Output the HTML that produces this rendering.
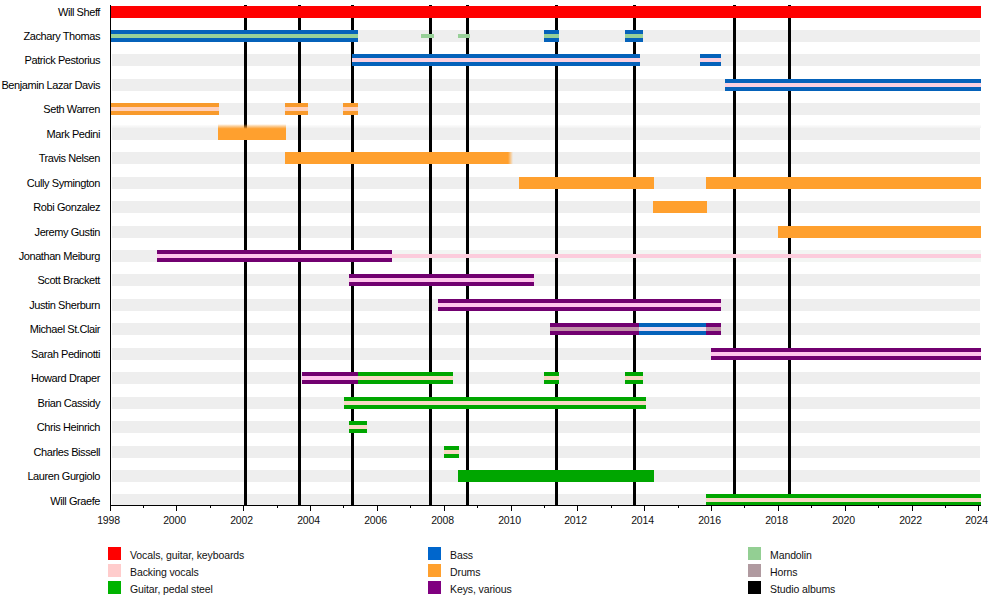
<!DOCTYPE html>
<html><head><meta charset="utf-8"><style>
html,body{margin:0;padding:0;background:#fff;}
body{width:1000px;height:615px;position:relative;overflow:hidden;font-family:"Liberation Sans",sans-serif;color:#111;}
div{position:absolute;}
.lb{right:900px;font-size:11px;letter-spacing:-0.42px;color:#000;white-space:nowrap;line-height:12px;text-align:right;}
.g{left:112px;width:868px;height:12px;background:#eeeeee;}
.yr{font-size:10.5px;letter-spacing:-0.18px;width:40px;text-align:center;line-height:12px;top:514px;}
.lg{width:13px;height:13px;}
.lt{font-size:10.5px;letter-spacing:-0.1px;line-height:13px;white-space:nowrap;}
</style></head><body>

<div class="g" style="top:6.0px"></div>
<div class="g" style="top:30.0px"></div>
<div class="g" style="top:54.0px"></div>
<div class="g" style="top:79.0px"></div>
<div class="g" style="top:103.0px"></div>
<div class="g" style="top:128.0px"></div>
<div class="g" style="top:152.0px"></div>
<div class="g" style="top:177.0px"></div>
<div class="g" style="top:201.0px"></div>
<div class="g" style="top:226.0px"></div>
<div class="g" style="top:250.0px"></div>
<div class="g" style="top:274.0px"></div>
<div class="g" style="top:299.0px"></div>
<div class="g" style="top:323.0px"></div>
<div class="g" style="top:348.0px"></div>
<div class="g" style="top:372.0px"></div>
<div class="g" style="top:397.0px"></div>
<div class="g" style="top:421.0px"></div>
<div class="g" style="top:446.0px"></div>
<div class="g" style="top:470.0px"></div>
<div class="g" style="top:494.0px"></div>
<div style="left:112px;width:869px;top:125px;height:3px;background:linear-gradient(to bottom,rgba(238,238,238,0.2),rgba(238,238,238,0.8))"></div>
<div style="left:392px;width:589px;top:250px;height:12px;background:#f3f5f3"></div>
<div class="lb" style="top:6.0px">Will Sheff</div>
<div class="lb" style="top:30.0px">Zachary Thomas</div>
<div class="lb" style="top:54.0px">Patrick Pestorius</div>
<div class="lb" style="top:79.0px">Benjamin Lazar Davis</div>
<div class="lb" style="top:103.0px">Seth Warren</div>
<div class="lb" style="top:128.0px">Mark Pedini</div>
<div class="lb" style="top:152.0px">Travis Nelsen</div>
<div class="lb" style="top:177.0px">Cully Symington</div>
<div class="lb" style="top:201.0px">Robi Gonzalez</div>
<div class="lb" style="top:226.0px">Jeremy Gustin</div>
<div class="lb" style="top:250.0px">Jonathan Meiburg</div>
<div class="lb" style="top:274.0px">Scott Brackett</div>
<div class="lb" style="top:299.0px">Justin Sherburn</div>
<div class="lb" style="top:323.0px">Michael St.Clair</div>
<div class="lb" style="top:348.0px">Sarah Pedinotti</div>
<div class="lb" style="top:372.0px">Howard Draper</div>
<div class="lb" style="top:397.0px">Brian Cassidy</div>
<div class="lb" style="top:421.0px">Chris Heinrich</div>
<div class="lb" style="top:446.0px">Charles Bissell</div>
<div class="lb" style="top:470.0px">Lauren Gurgiolo</div>
<div class="lb" style="top:494.5px">Will Graefe</div>
<div style="left:244.0px;top:5px;width:3px;height:500px;background:#000"></div>
<div style="left:298.0px;top:5px;width:3px;height:500px;background:#000"></div>
<div style="left:351.0px;top:5px;width:3px;height:500px;background:#000"></div>
<div style="left:429.0px;top:5px;width:3px;height:500px;background:#000"></div>
<div style="left:466.0px;top:5px;width:3px;height:500px;background:#000"></div>
<div style="left:555.0px;top:5px;width:3px;height:500px;background:#000"></div>
<div style="left:633.0px;top:5px;width:3px;height:500px;background:#000"></div>
<div style="left:733.0px;top:5px;width:3px;height:500px;background:#000"></div>
<div style="left:788.0px;top:5px;width:3px;height:500px;background:#000"></div>
<div style="left:110.0px;top:6.0px;width:871.0px;height:12.0px;background:#ff0000"></div>
<div style="left:110.0px;top:30.0px;width:248.0px;height:4.0px;background:#0562ba"></div>
<div style="left:110.0px;top:34.0px;width:248.0px;height:4.0px;background:#98d098"></div>
<div style="left:110.0px;top:38.0px;width:248.0px;height:4.0px;background:#0562ba"></div>
<div style="left:420.5px;top:34.0px;width:13.5px;height:4.0px;background:#98d098"></div>
<div style="left:458.0px;top:34.0px;width:12.0px;height:4.0px;background:#98d098"></div>
<div style="left:544.0px;top:30.0px;width:15.0px;height:4.0px;background:#0562ba"></div>
<div style="left:544.0px;top:34.0px;width:15.0px;height:4.0px;background:#98d098"></div>
<div style="left:544.0px;top:38.0px;width:15.0px;height:4.0px;background:#0562ba"></div>
<div style="left:625.0px;top:30.0px;width:18.0px;height:4.0px;background:#0562ba"></div>
<div style="left:625.0px;top:34.0px;width:18.0px;height:4.0px;background:#98d098"></div>
<div style="left:625.0px;top:38.0px;width:18.0px;height:4.0px;background:#0562ba"></div>
<div style="left:352.0px;top:54.0px;width:288.0px;height:4.0px;background:#0562ba"></div>
<div style="left:352.0px;top:58.0px;width:288.0px;height:4.0px;background:#fad0e0"></div>
<div style="left:352.0px;top:62.0px;width:288.0px;height:4.0px;background:#0562ba"></div>
<div style="left:700.0px;top:54.0px;width:21.0px;height:4.0px;background:#0562ba"></div>
<div style="left:700.0px;top:58.0px;width:21.0px;height:4.0px;background:#fad0e0"></div>
<div style="left:700.0px;top:62.0px;width:21.0px;height:4.0px;background:#0562ba"></div>
<div style="left:725.0px;top:79.0px;width:256.0px;height:4.0px;background:#0562ba"></div>
<div style="left:725.0px;top:83.0px;width:256.0px;height:4.0px;background:#fad0e0"></div>
<div style="left:725.0px;top:87.0px;width:256.0px;height:4.0px;background:#0562ba"></div>
<div style="left:110.0px;top:103.0px;width:108.5px;height:4.0px;background:#f89a2c"></div>
<div style="left:110.0px;top:107.0px;width:108.5px;height:4.0px;background:#ffd0bc"></div>
<div style="left:110.0px;top:111.0px;width:108.5px;height:4.0px;background:#f89a2c"></div>
<div style="left:285.0px;top:103.0px;width:23.0px;height:4.0px;background:#f89a2c"></div>
<div style="left:285.0px;top:107.0px;width:23.0px;height:4.0px;background:#ffd0bc"></div>
<div style="left:285.0px;top:111.0px;width:23.0px;height:4.0px;background:#f89a2c"></div>
<div style="left:343.0px;top:103.0px;width:15.0px;height:4.0px;background:#f89a2c"></div>
<div style="left:343.0px;top:107.0px;width:15.0px;height:4.0px;background:#ffd0bc"></div>
<div style="left:343.0px;top:111.0px;width:15.0px;height:4.0px;background:#f89a2c"></div>
<div style="left:218.0px;top:124.0px;width:68.0px;height:16.0px;background:linear-gradient(to bottom, rgba(255,160,46,0) 0%, rgba(255,160,46,1) 30%)"></div>
<div style="left:285.0px;top:152.0px;width:223.0px;height:12.0px;background:#ffa02e"></div>
<div style="left:508.0px;top:152.0px;width:5.0px;height:12.0px;background:linear-gradient(to right, rgba(255,160,46,1), rgba(255,160,46,0))"></div>
<div style="left:519.0px;top:177.0px;width:135.0px;height:12.0px;background:#ffa02e"></div>
<div style="left:706.0px;top:177.0px;width:275.0px;height:12.0px;background:#ffa02e"></div>
<div style="left:653.0px;top:201.0px;width:54.0px;height:12.0px;background:#ffa02e"></div>
<div style="left:778.0px;top:226.0px;width:203.0px;height:12.0px;background:#ffa02e"></div>
<div style="left:157.0px;top:250.0px;width:235.0px;height:4.0px;background:#720070"></div>
<div style="left:157.0px;top:254.0px;width:235.0px;height:4.0px;background:#ffc4ec"></div>
<div style="left:157.0px;top:258.0px;width:235.0px;height:4.0px;background:#720070"></div>
<div style="left:392.0px;top:254.0px;width:589.0px;height:4.0px;background:#fcccdc"></div>
<div style="left:349.0px;top:274.0px;width:185.0px;height:4.0px;background:#720070"></div>
<div style="left:349.0px;top:278.0px;width:185.0px;height:4.0px;background:#ffc4ec"></div>
<div style="left:349.0px;top:282.0px;width:185.0px;height:4.0px;background:#720070"></div>
<div style="left:438.0px;top:299.0px;width:283.0px;height:4.0px;background:#720070"></div>
<div style="left:438.0px;top:303.0px;width:283.0px;height:4.0px;background:#ffc4ec"></div>
<div style="left:438.0px;top:307.0px;width:283.0px;height:4.0px;background:#720070"></div>
<div style="left:550.0px;top:323.0px;width:89.0px;height:4.0px;background:#720070"></div>
<div style="left:550.0px;top:327.0px;width:89.0px;height:4.0px;background:#c090a8"></div>
<div style="left:550.0px;top:331.0px;width:89.0px;height:4.0px;background:#720070"></div>
<div style="left:639.0px;top:323.0px;width:67.0px;height:4.0px;background:#0562ba"></div>
<div style="left:639.0px;top:327.0px;width:67.0px;height:4.0px;background:#eedcee"></div>
<div style="left:639.0px;top:331.0px;width:67.0px;height:4.0px;background:#0562ba"></div>
<div style="left:706.0px;top:323.0px;width:15.0px;height:4.0px;background:#720070"></div>
<div style="left:706.0px;top:327.0px;width:15.0px;height:4.0px;background:#c090a8"></div>
<div style="left:706.0px;top:331.0px;width:15.0px;height:4.0px;background:#720070"></div>
<div style="left:711.0px;top:348.0px;width:270.0px;height:4.0px;background:#720070"></div>
<div style="left:711.0px;top:352.0px;width:270.0px;height:4.0px;background:#ffc4ec"></div>
<div style="left:711.0px;top:356.0px;width:270.0px;height:4.0px;background:#720070"></div>
<div style="left:302.0px;top:372.0px;width:56.0px;height:4.0px;background:#720070"></div>
<div style="left:302.0px;top:376.0px;width:56.0px;height:4.0px;background:#ffc4ec"></div>
<div style="left:302.0px;top:380.0px;width:56.0px;height:4.0px;background:#720070"></div>
<div style="left:358.0px;top:372.0px;width:95.0px;height:4.0px;background:#00a600"></div>
<div style="left:358.0px;top:376.0px;width:95.0px;height:4.0px;background:#f8d8c4"></div>
<div style="left:358.0px;top:380.0px;width:95.0px;height:4.0px;background:#00a600"></div>
<div style="left:544.0px;top:372.0px;width:15.0px;height:4.0px;background:#00a600"></div>
<div style="left:544.0px;top:376.0px;width:15.0px;height:4.0px;background:#f8d8c4"></div>
<div style="left:544.0px;top:380.0px;width:15.0px;height:4.0px;background:#00a600"></div>
<div style="left:625.0px;top:372.0px;width:18.0px;height:4.0px;background:#00a600"></div>
<div style="left:625.0px;top:376.0px;width:18.0px;height:4.0px;background:#f8d8c4"></div>
<div style="left:625.0px;top:380.0px;width:18.0px;height:4.0px;background:#00a600"></div>
<div style="left:344.0px;top:397.0px;width:302.0px;height:4.0px;background:#00a600"></div>
<div style="left:344.0px;top:401.0px;width:302.0px;height:4.0px;background:#f8d8c4"></div>
<div style="left:344.0px;top:405.0px;width:302.0px;height:4.0px;background:#00a600"></div>
<div style="left:349.0px;top:421.0px;width:18.0px;height:4.0px;background:#00a600"></div>
<div style="left:349.0px;top:425.0px;width:18.0px;height:4.0px;background:#f8d8c4"></div>
<div style="left:349.0px;top:429.0px;width:18.0px;height:4.0px;background:#00a600"></div>
<div style="left:444.0px;top:446.0px;width:15.0px;height:4.0px;background:#00a600"></div>
<div style="left:444.0px;top:450.0px;width:15.0px;height:4.0px;background:#f8d8c4"></div>
<div style="left:444.0px;top:454.0px;width:15.0px;height:4.0px;background:#00a600"></div>
<div style="left:458.0px;top:470.0px;width:196.0px;height:12.0px;background:#00a600"></div>
<div style="left:706.0px;top:494.0px;width:275.0px;height:4.0px;background:#00a600"></div>
<div style="left:706.0px;top:498.0px;width:275.0px;height:4.0px;background:#f8d8c4"></div>
<div style="left:706.0px;top:502.0px;width:275.0px;height:4.0px;background:#00a600"></div>
<div style="left:110px;top:5px;width:1px;height:506px;background:#000"></div>
<div style="left:110px;top:505px;width:871px;height:1px;background:#000"></div>
<div style="left:110.0px;top:506px;width:1px;height:5px;background:#000"></div>
<div class="yr" style="left:88.5px">1998</div>
<div style="left:143.0px;top:506px;width:1px;height:2px;background:#000"></div>
<div style="left:176.0px;top:506px;width:1px;height:5px;background:#000"></div>
<div class="yr" style="left:154.5px">2000</div>
<div style="left:210.0px;top:506px;width:1px;height:2px;background:#000"></div>
<div style="left:243.0px;top:506px;width:1px;height:5px;background:#000"></div>
<div class="yr" style="left:221.5px">2002</div>
<div style="left:277.0px;top:506px;width:1px;height:2px;background:#000"></div>
<div style="left:310.0px;top:506px;width:1px;height:5px;background:#000"></div>
<div class="yr" style="left:288.5px">2004</div>
<div style="left:343.0px;top:506px;width:1px;height:2px;background:#000"></div>
<div style="left:377.0px;top:506px;width:1px;height:5px;background:#000"></div>
<div class="yr" style="left:355.5px">2006</div>
<div style="left:410.0px;top:506px;width:1px;height:2px;background:#000"></div>
<div style="left:444.0px;top:506px;width:1px;height:5px;background:#000"></div>
<div class="yr" style="left:422.5px">2008</div>
<div style="left:477.0px;top:506px;width:1px;height:2px;background:#000"></div>
<div style="left:511.0px;top:506px;width:1px;height:5px;background:#000"></div>
<div class="yr" style="left:489.5px">2010</div>
<div style="left:544.0px;top:506px;width:1px;height:2px;background:#000"></div>
<div style="left:577.0px;top:506px;width:1px;height:5px;background:#000"></div>
<div class="yr" style="left:555.5px">2012</div>
<div style="left:611.0px;top:506px;width:1px;height:2px;background:#000"></div>
<div style="left:644.0px;top:506px;width:1px;height:5px;background:#000"></div>
<div class="yr" style="left:622.5px">2014</div>
<div style="left:678.0px;top:506px;width:1px;height:2px;background:#000"></div>
<div style="left:711.0px;top:506px;width:1px;height:5px;background:#000"></div>
<div class="yr" style="left:689.5px">2016</div>
<div style="left:744.0px;top:506px;width:1px;height:2px;background:#000"></div>
<div style="left:778.0px;top:506px;width:1px;height:5px;background:#000"></div>
<div class="yr" style="left:756.5px">2018</div>
<div style="left:811.0px;top:506px;width:1px;height:2px;background:#000"></div>
<div style="left:845.0px;top:506px;width:1px;height:5px;background:#000"></div>
<div class="yr" style="left:823.5px">2020</div>
<div style="left:878.0px;top:506px;width:1px;height:2px;background:#000"></div>
<div style="left:912.0px;top:506px;width:1px;height:5px;background:#000"></div>
<div class="yr" style="left:890.5px">2022</div>
<div style="left:945.0px;top:506px;width:1px;height:2px;background:#000"></div>
<div style="left:978.0px;top:506px;width:1px;height:5px;background:#000"></div>
<div class="yr" style="left:956.5px">2024</div>
<div class="lg" style="left:108px;top:547px;background:#ff0000"></div>
<div class="lt" style="left:130px;top:549.0px">Vocals, guitar, keyboards</div>
<div class="lg" style="left:108px;top:564px;background:#ffcccc"></div>
<div class="lt" style="left:130px;top:566.0px">Backing vocals</div>
<div class="lg" style="left:108px;top:581px;background:#00b300"></div>
<div class="lt" style="left:130px;top:583.0px">Guitar, pedal steel</div>
<div class="lg" style="left:428px;top:547px;background:#0066cc"></div>
<div class="lt" style="left:450px;top:549.0px">Bass</div>
<div class="lg" style="left:428px;top:564px;background:#ffa02e"></div>
<div class="lt" style="left:450px;top:566.0px">Drums</div>
<div class="lg" style="left:428px;top:581px;background:#800080"></div>
<div class="lt" style="left:450px;top:583.0px">Keys, various</div>
<div class="lg" style="left:748px;top:547px;background:#93cf93"></div>
<div class="lt" style="left:770px;top:549.0px">Mandolin</div>
<div class="lg" style="left:748px;top:564px;background:#b09aa0"></div>
<div class="lt" style="left:770px;top:566.0px">Horns</div>
<div class="lg" style="left:748px;top:581px;background:#000"></div>
<div class="lt" style="left:770px;top:583.0px">Studio albums</div>
</body></html>
